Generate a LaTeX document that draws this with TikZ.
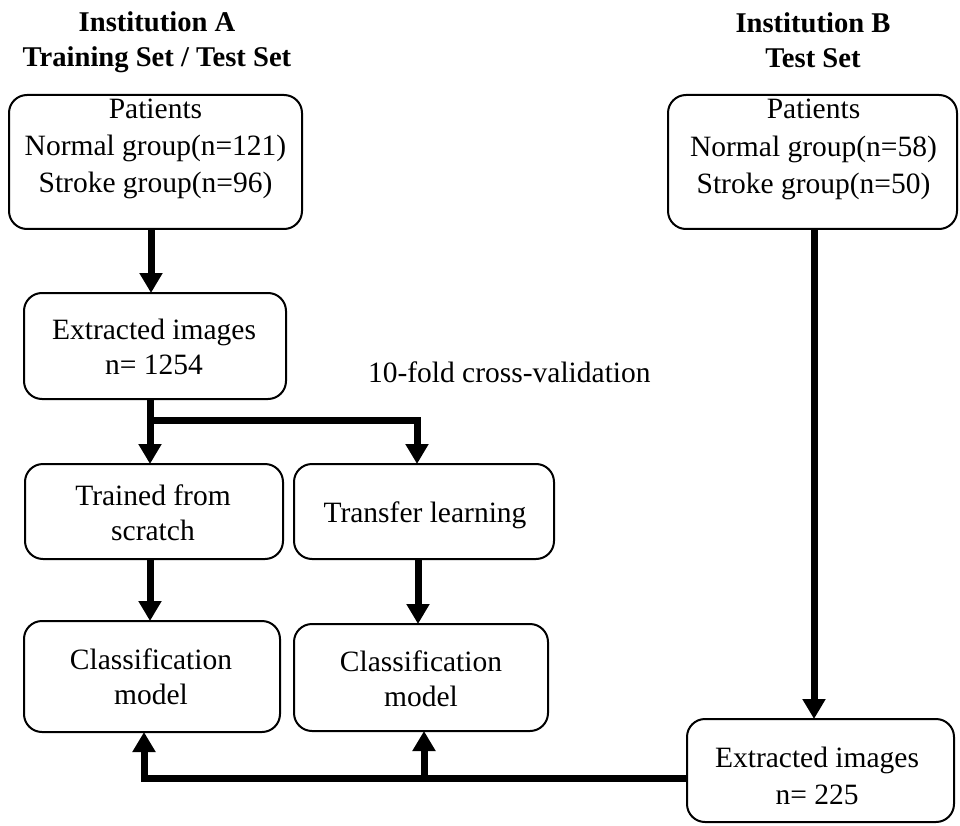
\documentclass[tikz,border=0pt]{standalone}
\usepackage{fontspec}
\setmainfont{Liberation Serif}
\usetikzlibrary{arrows.meta}
\newcommand{\mytab}[2]{\fontsize{29.5}{#1}\selectfont\begin{tabular}[t]{@{}c@{}}#2\end{tabular}}
\newcommand{\mytitle}[2]{\fontsize{28.6}{#1}\selectfont\bfseries\begin{tabular}[t]{@{}c@{}}#2\end{tabular}}
\begin{document}
\begin{tikzpicture}[x=1pt,y=-1pt,
  box/.style={draw, line width=2pt, rounded corners=18pt, inner sep=0pt, outer sep=0pt},
  txt/.style={anchor=base, inner sep=0pt, outer sep=0pt, font=\fontsize{29.5}{37}\selectfont},
  arr/.style={line width=7pt, -{Triangle[width=22pt,length=20pt]}}]
\useasboundingbox (0,0) rectangle (960,826);
% titles
\node[txt] (tA) at (157,32) {\mytitle{35}{Institution A\\Training Set / Test Set}};
\node[txt] (tB) at (813,33) {\mytitle{35}{Institution B\\Test Set}};
% boxes
\node[box, minimum width=293pt, minimum height=134pt] (pa) at (155.5,162) {};
\node[box, minimum width=289pt, minimum height=134pt] (pb) at (812.5,162) {};
\node[box, minimum width=262pt, minimum height=106pt] (ea) at (155,346) {};
\node[box, minimum width=258pt, minimum height=95pt] (tr) at (154,511.5) {};
\node[box, minimum width=260pt, minimum height=95pt] (tl) at (424,511.5) {};
\node[box, minimum width=256pt, minimum height=111pt] (ca) at (152,676.5) {};
\node[box, minimum width=254pt, minimum height=107pt] (cb) at (421,677.5) {};
\node[box, minimum width=267pt, minimum height=103pt] (eb) at (820.5,770.5) {};
% texts
\node[txt] (pat) at (155.5,119) {\mytab{37}{Patients\\Normal group(n=121)\\Stroke group(n=96)}};
\node[txt] (pbt) at (813.5,119) {\mytab{37.5}{Patients\\Normal group(n=58)\\Stroke group(n=50)}};
\node[txt] (eat) at (154,339) {\mytab{35}{Extracted images\\n= 1254}};
\node[txt] (trt) at (153,505) {\mytab{35}{Trained from\\scratch}};
\node[txt] (tlt) at (425,522) {\mytab{35}{Transfer learning}};
\node[txt] (cat) at (151,669) {\mytab{35}{Classification\\model}};
\node[txt] (cbt) at (421,671) {\mytab{35}{Classification\\model}};
\node[txt] (ebt) at (817,767) {\mytab{37}{Extracted images\\n= 225}};
\node[txt, anchor=base west] (cv) at (368,382) {10-fold cross-validation};
% connectors
\draw[arr] (pa.south -| 151,0) -- (ea.north -| 151,0);
\draw[arr] (ea.south -| 150,0) -- (tr.north -| 150,0);
\coordinate (br) at (154,420);
\draw[arr] (br) -| (tl.north -| 417,0);
\draw[arr] (tr.south -| 150,0) -- (ca.north -| 150,0);
\draw[arr] (tl.south -| 418,0) -- (cb.north -| 418,0);
\draw[arr] (pb.south -| 814,0) -- (eb.north -| 814,0);
\draw[arr] (eb.west |- 0,778) -| (ca.south -| 144,0);
\coordinate (jn) at (424,778);
\draw[arr] (jn) -- (cb.south -| 424,0);
\end{tikzpicture}
\end{document}
